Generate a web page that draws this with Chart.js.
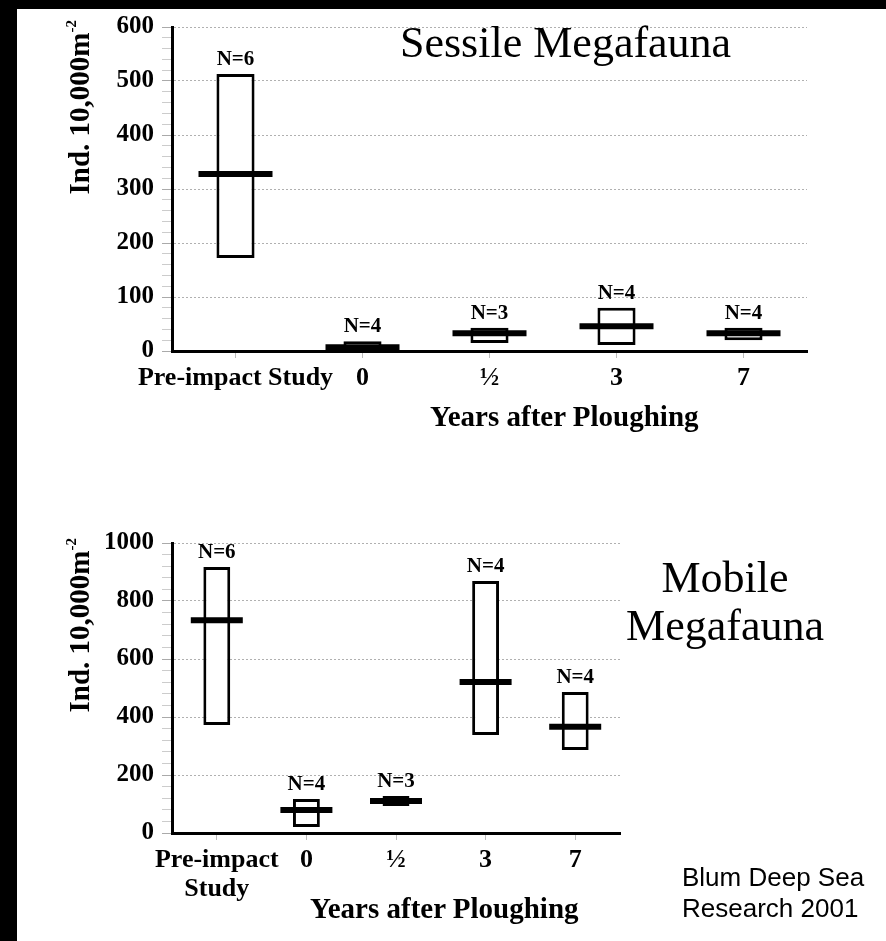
<!DOCTYPE html>
<html>
<head>
<meta charset="utf-8">
<script src="https://cdn.jsdelivr.net/npm/chart.js@4.4.1/dist/chart.umd.min.js"></script>
<style>
  html, body { margin: 0; padding: 0; width: 886px; height: 941px; overflow: hidden; background: #000; }
  #sheet { position: absolute; left: 17px; top: 9px; width: 869px; height: 932px; background: #fff; }
  .wrap { position: absolute; left: 17px; width: 869px; }
  #topWrap { top: -16px; height: 456px; }
  #botWrap { top: 500px; height: 441px; }
  .txt { position: absolute; color: #000; white-space: nowrap; }
  .panel-title { font-family: "Liberation Serif", "Times New Roman", serif; font-size: 44px; line-height: 44px; }
  .x-title { font-family: "Liberation Serif", "Times New Roman", serif; font-weight: bold; font-size: 29px; line-height: 29px; }
  .cite { font-family: "Liberation Sans", Arial, sans-serif; font-size: 26px; line-height: 31px; }
</style>
</head>
<body>
<div id="sheet"></div>
<div class="wrap" id="topWrap"><canvas id="sessileChart"></canvas></div>
<div class="wrap" id="botWrap"><canvas id="mobileChart"></canvas></div>

<div class="txt panel-title" style="left:400px; top:21px;">Sessile Megafauna</div>
<div class="txt panel-title" style="left:625px; top:554px; width:200px; text-align:center; line-height:48px;">Mobile<br>Megafauna</div>
<div class="txt x-title" style="left:430px; top:402px;">Years after Ploughing</div>
<div class="txt x-title" style="left:310px; top:894px;">Years after Ploughing</div>
<div class="txt cite" style="left:682px; top:862px;">Blum Deep Sea<br>Research 2001</div>

<script>
// categories
const sessileLabels = ['Pre-impact Study', '0', '½', '3', '7'];
const mobileLabels = [['Pre-impact', 'Study'], '0', '½', '3', '7'];

// Sessile megafauna (ind. 10,000 m^-2)
const sessileLow = [172, 1, 15, 11, 20];
const sessileHigh = [513, 18, 43, 80, 43];
const sessileMedian = [328, 7, 33, 46, 33];
const sessileN = [6, 4, 3, 4, 4];

// Mobile megafauna (ind. 10,000 m^-2)
const mobileLow = [372, 21, 93, 338, 286];
const mobileHigh = [917, 117, 128, 869, 486];
const mobileMedian = [734, 79, 110, 521, 366];
const mobileN = [6, 4, 3, 4, 4];

const serif = '"Liberation Serif", "Times New Roman", serif';

// "N=.." above each box
const nLabels = {
    id: 'nLabels',
    afterDatasetsDraw(chart, args, opts) {
        const { ctx } = chart;
        const x = chart.scales.x;
        const y = chart.scales.y;
        ctx.save();
        ctx.font = 'bold 21px ' + serif;
        ctx.fillStyle = '#000';
        ctx.textAlign = 'center';
        ctx.textBaseline = 'alphabetic';
        opts.counts.forEach((n, i) => {
            ctx.fillText('N=' + n, x.getPixelForValue(i), y.getPixelForValue(opts.highs[i]) - 9);
        });
        ctx.restore();
    }
};

// rotated y title with a raised "-2"
const yTitle = {
    id: 'yTitle',
    afterDraw(chart, args, opts) {
        const { ctx, chartArea } = chart;
        ctx.save();
        ctx.translate(chartArea.left - 90, chartArea.top + opts.endShift);
        ctx.rotate(-Math.PI / 2);
        ctx.fillStyle = '#000';
        ctx.textBaseline = 'middle';
        ctx.textAlign = 'right';
        ctx.font = 'bold 15px ' + serif;
        const supW = ctx.measureText('-2').width;
        ctx.fillText('-2', 0, -10);
        ctx.font = 'bold 29px ' + serif;
        ctx.fillText('Ind. 10,000m', -supW, 0);
        ctx.restore();
    }
};

function makeChart(canvasId, cfg) {
    const boxes = cfg.low.map((lo, i) => [lo, cfg.high[i]]);
    return new Chart(document.getElementById(canvasId), {
        type: 'bar',
        data: {
            labels: cfg.labels,
            datasets: [
                {
                    type: 'line',
                    data: cfg.median,
                    showLine: false,
                    pointStyle: 'line',
                    pointRadius: cfg.medianHalf,
                    pointBorderWidth: 6,
                    pointBorderColor: '#000',
                    pointBackgroundColor: '#000',
                    order: 0
                },
                {
                    data: boxes,
                    backgroundColor: '#fff',
                    borderColor: '#000',
                    borderWidth: 3,
                    borderSkipped: false,
                    barPercentage: 0.3,
                    categoryPercentage: 1,
                    order: 1
                }
            ]
        },
        options: {
            responsive: true,
            maintainAspectRatio: false,
            animation: false,
            events: [],
            layout: { padding: cfg.padding },
            plugins: {
                legend: { display: false },
                tooltip: { enabled: false },
                nLabels: { counts: cfg.n, highs: cfg.high },
                yTitle: { endShift: cfg.titleShift }
            },
            scales: {
                x: {
                    afterFit: s => { s.height = cfg.xHeight; },
                    grid: { display: true, drawOnChartArea: false, offset: false, tickLength: 7, color: '#bbb' },
                    border: { color: '#000', width: 3 },
                    ticks: {
                        color: '#000',
                        padding: 6,
                        maxRotation: 0,
                        autoSkip: false,
                        font: { family: serif, weight: 'bold', size: 26, lineHeight: 1.1 }
                    }
                },
                y: {
                    min: 0,
                    max: cfg.max,
                    afterFit: s => { s.width = 155; },
                    grid: {
                        tickLength: 10,
                        color: c => (c.tick.value % cfg.major === 0 ? '#b0b0b0' : 'rgba(0,0,0,0)'),
                        tickColor: c => (c.tick.value % cfg.major === 0 ? '#aaa' : '#ccc')
                    },
                    border: { color: '#000', width: 3, dash: [2, 2] },
                    ticks: {
                        stepSize: cfg.minor,
                        autoSkip: false,
                        padding: 8,
                        color: '#000',
                        font: { family: serif, weight: 'bold', size: 25 },
                        callback: v => (v % cfg.major === 0 ? v : '')
                    }
                }
            }
        },
        plugins: [nLabels, yTitle]
    });
}

makeChart('sessileChart', {
    labels: sessileLabels,
    low: sessileLow,
    high: sessileHigh,
    median: sessileMedian,
    n: sessileN,
    max: 600,
    major: 100,
    minor: 20,
    medianHalf: 37,
    xHeight: 50,
    titleShift: -7,
    padding: { top: 43, right: 79, bottom: 39, left: 0 }
});

makeChart('mobileChart', {
    labels: mobileLabels,
    low: mobileLow,
    high: mobileHigh,
    median: mobileMedian,
    n: mobileN,
    max: 1000,
    major: 200,
    minor: 40,
    medianHalf: 26,
    xHeight: 70,
    titleShift: -5,
    padding: { top: 43, right: 266, bottom: 38, left: 0 }
});
</script>
</body>
</html>
